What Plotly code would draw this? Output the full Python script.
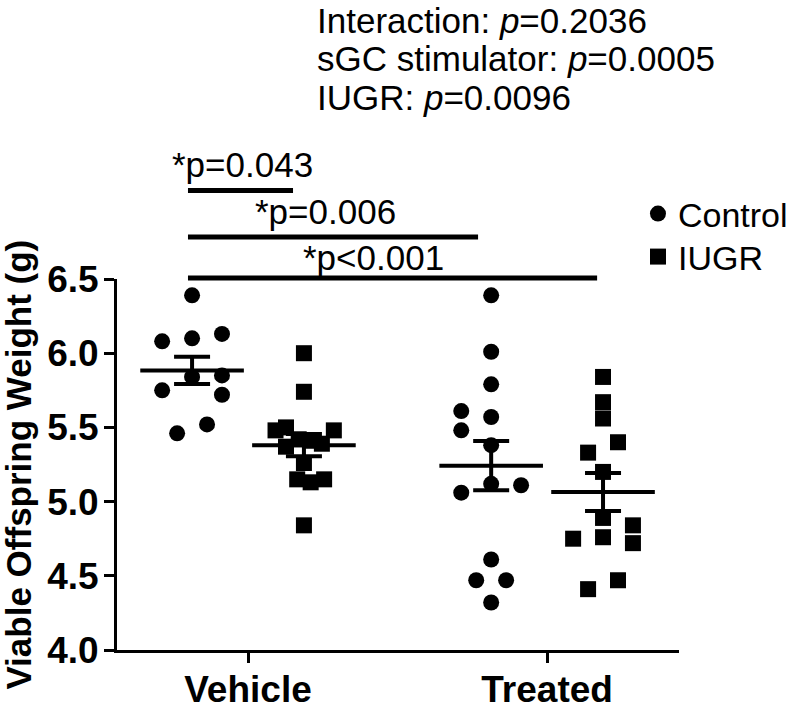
import numpy as np
import plotly.graph_objects as go

# ---------------- data ----------------
treatments = ["Vehicle", "Treated"]
genotypes = ["Control", "IUGR"]

vehicle_control = [6.39, 6.08, 6.10, 6.13, 5.84, 5.85, 5.75, 5.72, 5.52, 5.46]
vehicle_iugr = [6.00, 5.74, 5.48, 5.50, 5.48, 5.42, 5.41, 5.39, 5.37, 5.26, 5.15, 5.13, 5.15, 4.84]
treated_control = [6.39, 6.01, 5.79, 5.61, 5.57, 5.48, 5.38, 5.12, 5.11, 5.06, 4.61, 4.47, 4.47, 4.32]
treated_iugr = [5.84, 5.67, 5.56, 5.40, 5.33, 5.20, 4.89, 4.84, 4.76, 4.75, 4.72, 4.47, 4.41]

# horizontal scatter (jitter) of each point, in jitter steps
vehicle_control_jitter = [0, -2, 0, 2, 0, 2, -2, 2, 1, -1]
vehicle_iugr_jitter = [0, 0, -1.9, -1.2, 2, -0.35, 0.6, 1.2, -1.2, 0, -0.45, 0.45, 1.35, 0]
treated_control_jitter = [0, 0, 0, -2, 0, -2, 0, 0, 2, -2, 0, -1, 1, 0]
treated_iugr_jitter = [0, 0, 0, 1, -1, 0, 0, 2, 0, -2, 2, 1, -1]

y_tick_values = [4.0, 4.5, 5.0, 5.5, 6.0, 6.5]
y_tick_labels = ["4.0", "4.5", "5.0", "5.5", "6.0", "6.5"]

stats_lines = ["Interaction: <i>p</i>=0.2036",
               "sGC stimulator: <i>p</i>=0.0005",
               "IUGR: <i>p</i>=0.0096"]
comparison_labels = ["*p=0.043", "*p=0.006", "*p<0.001"]

# ---------------- layout helpers ----------------
FONT = "Arial, 'Liberation Sans', Helvetica, sans-serif"
JIT = 0.05
OFFSET = {"Control": -0.187, "IUGR": 0.187}
TX = {"Vehicle": 0, "Treated": 1}
SYMBOL = {"Control": "circle", "IUGR": "square"}
LEGEND_ID = {"Control": "legend", "IUGR": "legend2"}

groups = {
    ("Vehicle", "Control"): (vehicle_control, vehicle_control_jitter),
    ("Vehicle", "IUGR"): (vehicle_iugr, vehicle_iugr_jitter),
    ("Treated", "Control"): (treated_control, treated_control_jitter),
    ("Treated", "IUGR"): (treated_iugr, treated_iugr_jitter),
}

fig = go.Figure()

for g in genotypes:
    xs, ys = [], []
    for t in treatments:
        vals, jit = groups[(t, g)]
        xs += [TX[t] + OFFSET[g] + j * JIT for j in jit]
        ys += vals
    fig.add_trace(go.Scatter(
        x=xs, y=ys, mode="markers", name=g, legend=LEGEND_ID[g],
        marker=dict(symbol=SYMBOL[g], size=16, color="black", line=dict(width=0)),
    ))

mx, my, me = [], [], []
for t in treatments:
    for g in genotypes:
        vals = np.array(groups[(t, g)][0])
        mx.append(TX[t] + OFFSET[g])
        my.append(vals.mean())
        me.append(vals.std(ddof=1) / np.sqrt(len(vals)))

fig.add_trace(go.Scatter(
    x=mx, y=my, mode="markers", showlegend=False,
    marker=dict(symbol="line-ew", size=74, color="black",
                line=dict(color="black", width=4)),
    error_y=dict(type="data", array=me, visible=True, color="black",
                 thickness=4, width=18),
))

# significance bars (x in data units, y in paper units above plot)
comp_x0 = [-0.2007, -0.2007, -0.2007]
comp_x1 = [0.1505, 0.7692, 1.1672]
comp_y = [1.2385, 1.113, 1.0027]
comp_text_x = [-0.018, 0.258, 0.420]
comp_text_y = [1.3086, 1.1819, 1.058]

shapes = []
annotations = []
for x0, x1, yy in zip(comp_x0, comp_x1, comp_y):
    shapes.append(dict(type="line", xref="x", yref="paper", x0=x0, x1=x1, y0=yy, y1=yy,
                       line=dict(color="black", width=5)))
for txt, xx, yy in zip(comparison_labels, comp_text_x, comp_text_y):
    annotations.append(dict(text=txt, xref="x", yref="paper", x=xx, y=yy,
                            xanchor="center", yanchor="middle", showarrow=False,
                            font=dict(size=35, color="black", family=FONT)))

# first line is top-anchored at the figure's upper edge so it is not clipped
stat_y = [1.752, 1.5943, 1.4879]
stat_anchor = ["top", "middle", "middle"]
for txt, yy, ya in zip(stats_lines, stat_y, stat_anchor):
    annotations.append(dict(text=txt, xref="paper", yref="paper", x=0.354, y=yy,
                            xanchor="left", yanchor=ya, showarrow=False, borderpad=0,
                            font=dict(size=35, color="black", family=FONT)))

annotations.append(dict(text="Viable Offspring Weight (g)", xref="paper", yref="paper",
                        x=-0.176, y=0.5, xanchor="center", yanchor="middle",
                        textangle=-90, showarrow=False,
                        font=dict(size=35, color="black", family=FONT, weight="bold")))

axis_common = dict(showline=True, linewidth=3, linecolor="black", ticks="outside",
                   ticklen=10, tickwidth=3, tickcolor="black", showgrid=False,
                   zeroline=False)

legend_common = dict(xanchor="left", yanchor="top",
                     font=dict(size=34, color="black", family=FONT),
                     bgcolor="rgba(0,0,0,0)")

fig.update_layout(
    width=792, height=714,
    margin=dict(l=117, r=113, t=279, b=64, autoexpand=False),
    plot_bgcolor="white", paper_bgcolor="white",
    font=dict(family=FONT, size=35, color="black"),
    xaxis=dict(range=[-0.438, 1.441], tickvals=[TX[t] for t in treatments],
               ticktext=treatments, ticklabelstandoff=-5,
               tickfont=dict(size=37, color="black", family=FONT, weight="bold"),
               **axis_common),
    yaxis=dict(range=[4, 6.5], tickvals=y_tick_values, ticktext=y_tick_labels,
               ticklabelstandoff=-2,
               tickfont=dict(size=37, color="black", family=FONT, weight="bold"),
               **axis_common),
    legend=dict(x=0.927, y=1.2534, **legend_common),
    legend2=dict(x=0.927, y=1.1375, **legend_common),
    shapes=shapes, annotations=annotations,
    showlegend=True,
)

# remove the browser's default 8 px page margin so the figure sits at the window corner
fig.write_html("out.html",
               config={"displayModeBar": False},
               post_script="document.body.style.margin='0';document.body.style.overflow='hidden';")
